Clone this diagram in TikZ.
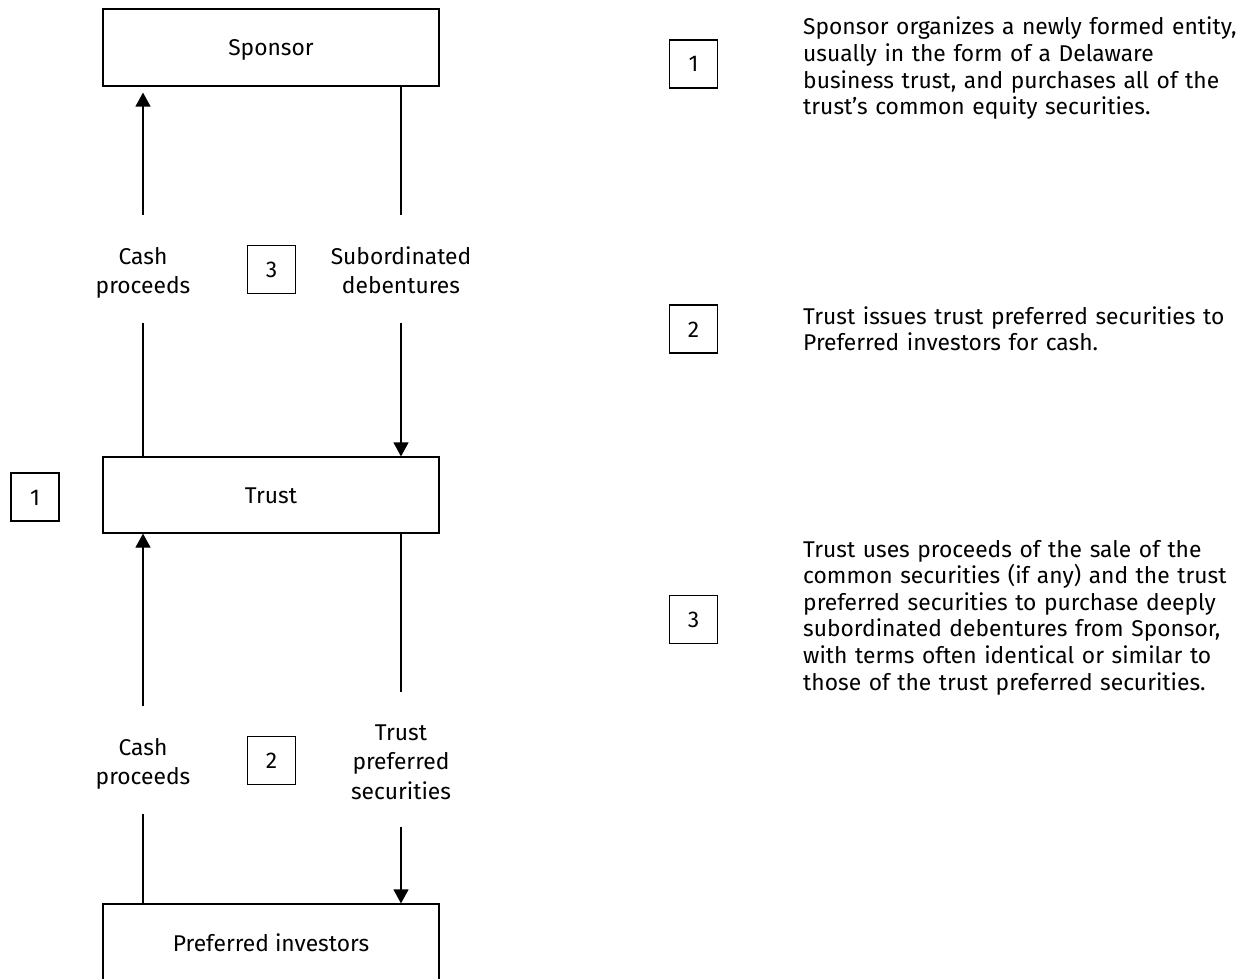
\documentclass[tikz,border=0pt]{standalone}
\usepackage{fontspec}
\setmainfont{Fira Sans}
\usetikzlibrary{arrows.meta}
\begin{document}
\begin{tikzpicture}[x=1pt,y=-1pt,
  basefont/.style={font=\fontsize{22.8}{26.6}\selectfont},
  entity/.style={draw, line width=1.2pt, minimum width=336pt, minimum height=77pt,
    inner sep=0pt, text height=16pt, text depth=0pt, basefont},
  numbox/.style={draw, line width=1.1pt, minimum size=48pt, inner sep=0pt,
    text height=16pt, text depth=0pt, basefont},
  lbl/.style={text width=200pt, align=center, inner sep=0pt, anchor=base,
    font=\fontsize{22.8}{29.5}\selectfont},
  desc/.style={text width=445pt, align=left, inner sep=0pt, anchor=base west, basefont},
  flow/.style={line width=1.2pt},
  arr/.style={flow, -{Triangle[width=15pt,length=14pt]}}
]
\useasboundingbox (0,0) rectangle (1254,979);
\clip (0,0) rectangle (1254,979);

% columns
\coordinate (colL) at (143,0);
\coordinate (colR) at (401,0);

% main boxes
\node[entity] (sponsor) at (271,47.5) {Sponsor};
\node[entity, minimum height=76pt] (trust) at (271,495) {Trust};
\node[entity, minimum height=78pt] (investors) at (271,943) {Preferred investors};

% step markers in the diagram
\node[numbox] (m1) at (35,497) {1};
\node[numbox] (m3) at (271.5,269.5) {3};
\node[numbox] (m2) at (271.5,760.5) {2};

% flow labels
\node[lbl] (cash1) at (143,264) {Cash\\proceeds};
\node[lbl] (sub) at (401,264) {Subordinated\\debentures};
\node[lbl] (cash2) at (143,755) {Cash\\proceeds};
\node[lbl] (tps) at (401,740) {Trust\\preferred\\securities};

% free ends of the connectors
\coordinate (a1) at (143,215);
\coordinate (a2) at (143,323);
\coordinate (a3) at (401,215);
\coordinate (a4) at (401,323);
\coordinate (b1) at (143,706);
\coordinate (b2) at (143,814);
\coordinate (b3) at (401,692);
\coordinate (b4) at (401,827);

% connectors Sponsor -- Trust
\draw[arr, shorten >=6pt] (a1) -- (sponsor.south -| colL);
\draw[flow] (trust.north -| colL) -- (a2);
\draw[flow] (sponsor.south -| colR) -- (a3);
\draw[arr] (a4) -- (trust.north -| colR);

% connectors Trust -- Preferred investors
\draw[arr] (b1) -- (trust.south -| colL);
\draw[flow] (investors.north -| colL) -- (b2);
\draw[flow] (trust.south -| colR) -- (b3);
\draw[arr] (b4) -- (investors.north -| colR);

% legend
\node[numbox] (k1) at (693.5,64) {1};
\node[numbox] (k2) at (693.5,329) {2};
\node[numbox] (k3) at (693.5,619.5) {3};

\node[desc] (d1) at (803,35) {Sponsor organizes a newly formed entity,\\
usually in the form of a Delaware\\
business trust, and purchases all of the\\
trust’s common equity securities.};

\node[desc] (d2) at (803,324) {Trust issues trust preferred securities to\\
Preferred investors for cash.};

\node[desc] (d3) at (803,557) {Trust uses proceeds of the sale of the\\
common securities (if any) and the trust\\
preferred securities to purchase deeply\\
subordinated debentures from Sponsor,\\
with terms often identical or similar to\\
those of the trust preferred securities.};
\end{tikzpicture}
\end{document}
